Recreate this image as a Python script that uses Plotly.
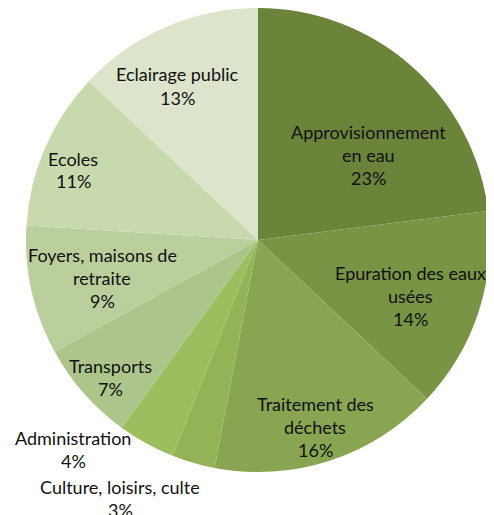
import plotly.graph_objects as go

# data
categories = ["Approvisionnement en eau", "Epuration des eaux usées", "Traitement des déchets",
              "Culture, loisirs, culte", "Administration", "Transports",
              "Foyers, maisons de retraite", "Ecoles", "Eclairage public"]
shares = [23, 14, 16, 3, 4, 7, 9, 11, 13]
colors = ["#6b843a", "#7a9445", "#89a551", "#93b356", "#9dbe5e",
          "#adc58a", "#bbcf9c", "#c9d9ae", "#dce5cb"]

# label text split in lines, and where each block sits (page pixel centre)
label_lines = [["Approvisionnement", "en eau"], ["Epuration des eaux", "usées"],
               ["Traitement des", "déchets"], ["Culture, loisirs, culte"],
               ["Administration"], ["Transports"], ["Foyers, maisons de", "retraite"],
               ["Ecoles"], ["Eclairage public"]]
label_pos = [(368, 155), (410, 296), (315, 427), (120, 498), (73, 449),
             (110, 377), (102, 278), (73, 170), (177, 86)]

W, H = 494, 515
off = 8  # body margin of the html page
cx, cy, r = 258 - off, 240 - off, 232

fig = go.Figure(go.Pie(
    labels=categories, values=shares, sort=False, direction="clockwise",
    rotation=0, textinfo="none", hoverinfo="label+percent",
    marker=dict(colors=colors, line=dict(width=0)),
    domain=dict(x=[(cx - r) / W, (cx + r) / W], y=[1 - (cy + r) / H, 1 - (cy - r) / H]),
    showlegend=False,
))

line_h = 23
for lines, pct, (px_, py_) in zip(label_lines, shares, label_pos):
    rows = lines + [f"{pct}%"]
    n = len(rows)
    for i, row in enumerate(rows):
        y = py_ - off + (i - (n - 1) / 2) * line_h
        fig.add_annotation(x=(px_ - off) / W, y=1 - y / H, xref="paper", yref="paper",
                           text=row, showarrow=False, xanchor="center", yanchor="middle",
                           font=dict(family="Lato", size=18, color="#111111"))

fig.update_layout(width=W, height=H, margin=dict(l=0, r=0, t=0, b=0),
                  paper_bgcolor="white", plot_bgcolor="white")

fig.write_html("out.html")
